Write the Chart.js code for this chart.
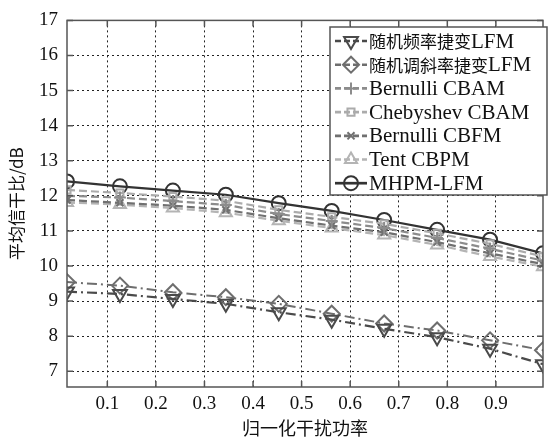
<!DOCTYPE html>
<html>
<head>
<meta charset="utf-8">
<script src="https://cdn.jsdelivr.net/npm/chart.js@4.4.1/dist/chart.umd.min.js"></script>
<style>
  html, body { margin: 0; padding: 0; background: #fff; }
  #wrap { width: 553px; height: 442px; }
</style>
</head>
<body>
<div id="wrap"><canvas id="grafico"></canvas></div>
<script>
const xValues = [0.017, 0.126, 0.235, 0.344, 0.453, 0.562, 0.670, 0.779, 0.888, 0.997];
const xTicks = [0.1, 0.2, 0.3, 0.4, 0.5, 0.6, 0.7, 0.8, 0.9];
const yTicks = [7, 8, 9, 10, 11, 12, 13, 14, 15, 16, 17];

const freqAgile = [9.27, 9.2, 9.06, 8.92, 8.68, 8.47, 8.21, 7.97, 7.64, 7.2];
const slopeAgile = [9.54, 9.44, 9.25, 9.11, 8.92, 8.64, 8.36, 8.16, 7.88, 7.6];
const bernulliCBAM = [12.0, 11.95, 11.85, 11.74, 11.48, 11.28, 11.08, 10.8, 10.49, 10.15];
const chebyshevCBAM = [12.17, 12.08, 11.98, 11.86, 11.6, 11.4, 11.2, 10.93, 10.63, 10.27];
const bernulliCBFM = [11.88, 11.8, 11.72, 11.6, 11.36, 11.15, 10.96, 10.68, 10.36, 10.05];
const tentCBPM = [11.81, 11.75, 11.65, 11.52, 11.29, 11.08, 10.88, 10.6, 10.27, 9.98];
const mhpmLFM = [12.41, 12.27, 12.15, 12.03, 11.79, 11.57, 11.31, 11.03, 10.75, 10.36];

const serif = '"Liberation Serif", "Noto Sans CJK SC", serif';
const cjk = '"Noto Sans CJK SC", "Liberation Serif", sans-serif';

function pontos(valores) {
    return valores.map((v, i) => ({ x: xValues[i], y: v }));
}

function serie(label, valores, cor, dash, estilo, raio, rot, largura) {
    return {
        label: label,
        data: pontos(valores),
        borderColor: cor,
        borderWidth: largura || 2,
        borderDash: dash,
        pointStyle: estilo,
        pointRadius: raio,
        pointRotation: rot || 0,
        pointBorderColor: cor,
        pointBorderWidth: 2,
        pointBackgroundColor: 'rgba(0,0,0,0)',
        fill: false,
        tension: 0
    };
}

const datasets = [
    serie('随机频率捷变LFM', freqAgile, '#4a4a4a', [10, 4, 2, 4], 'triangle', 8, 180, 2.2),
    serie('随机调斜率捷变LFM', slopeAgile, '#6e6e6e', [10, 4, 2, 4], 'rectRot', 8, 0, 2),
    serie('Bernulli CBAM', bernulliCBAM, '#8c8c8c', [8, 4], 'cross', 6, 0, 2.2),
    serie('Chebyshev CBAM', chebyshevCBAM, '#ababab', [8, 4], 'rect', 5, 0, 2.2),
    serie('Bernulli CBFM', bernulliCBFM, '#707070', [8, 4], 'crossRot', 5, 0, 2.2),
    serie('Tent CBPM', tentCBPM, '#b4b4b4', [8, 4], 'triangle', 7, 0, 2.2),
    serie('MHPM-LFM', mhpmLFM, '#333333', [], 'circle', 7, 0, 2.2)
];

// texto misto: chinês em fonte CJK, latim em serif
function textoMisto(ctx, texto, x, y) {
    const partes = texto.match(/[\u4e00-\u9fff]+|[^\u4e00-\u9fff]+/g) || [];
    partes.forEach(p => {
        ctx.font = /[\u4e00-\u9fff]/.test(p) ? '17px ' + cjk : '21px ' + serif;
        ctx.fillText(p, x, y);
        x += ctx.measureText(p).width;
    });
}

const molduraPlugin = {
    id: 'moldura',
    afterDatasetsDraw(chart) {
        const ctx = chart.ctx;
        const a = chart.chartArea;
        const sx = chart.scales.x;
        const sy = chart.scales.y;
        ctx.save();
        ctx.strokeStyle = '#555';
        ctx.lineWidth = 1.5;
        ctx.setLineDash([]);
        // marcas internas dos eixos
        ctx.beginPath();
        xTicks.forEach(t => {
            const px = sx.getPixelForValue(t);
            ctx.moveTo(px, a.bottom); ctx.lineTo(px, a.bottom - 6);
            ctx.moveTo(px, a.top); ctx.lineTo(px, a.top + 6);
        });
        yTicks.forEach(t => {
            const py = sy.getPixelForValue(t);
            ctx.moveTo(a.left, py); ctx.lineTo(a.left + 6, py);
            ctx.moveTo(a.right, py); ctx.lineTo(a.right - 6, py);
        });
        ctx.stroke();
        ctx.strokeRect(a.left, a.top, a.right - a.left, a.bottom - a.top);
        ctx.restore();
    },
    afterDraw(chart) {
        const ctx = chart.ctx;
        const bx = 330, by = 27, bw = 217, bh = 168;
        ctx.save();
        ctx.fillStyle = '#fff';
        ctx.fillRect(bx, by, bw, bh);
        ctx.strokeStyle = '#555';
        ctx.lineWidth = 1.5;
        ctx.setLineDash([]);
        ctx.strokeRect(bx, by, bw, bh);
        chart.data.datasets.forEach((ds, i) => {
            const y = by + 14 + i * 23.7;
            ctx.strokeStyle = ds.borderColor;
            ctx.lineWidth = ds.borderWidth + 0.5;
            ctx.setLineDash(ds.borderDash.length ? [6, 3] : []);
            ctx.beginPath();
            ctx.moveTo(bx + 5, y);
            ctx.lineTo(bx + 37, y);
            ctx.stroke();
            ctx.setLineDash([]);
            ctx.lineWidth = 2;
            ctx.fillStyle = 'rgba(0,0,0,0)';
            Chart.helpers.drawPoint(ctx, {
                pointStyle: ds.pointStyle,
                radius: ds.pointRadius,
                rotation: ds.pointRotation,
                borderWidth: 2
            }, bx + 21, y);
            ctx.fillStyle = '#111';
            ctx.textBaseline = 'middle';
            ctx.textAlign = 'left';
            textoMisto(ctx, ds.label, bx + 39, y + 1);
        });
        ctx.restore();
    }
};

new Chart(document.getElementById('grafico').getContext('2d'), {
    type: 'line',
    data: { datasets: datasets },
    options: {
        responsive: true,
        maintainAspectRatio: false,
        animation: false,
        layout: { padding: { left: 0, right: 2, top: 19, bottom: 0 } },
        plugins: {
            legend: { display: false },
            tooltip: { enabled: false }
        },
        scales: {
            x: {
                type: 'linear',
                min: 0.017,
                max: 0.997,
                afterBuildTicks: s => { s.ticks = xTicks.map(v => ({ value: v })); },
                afterFit: s => { s.height = 55; },
                grid: { color: '#222', lineWidth: 1, drawTicks: false },
                border: { display: false, dash: [2, 3] },
                ticks: {
                    color: '#111',
                    padding: 6,
                    maxRotation: 0,
                    font: { family: serif, size: 19 },
                    callback: v => v.toFixed(1)
                },
                title: {
                    display: true,
                    text: '归一化干扰功率',
                    color: '#111',
                    font: { family: cjk, size: 18 },
                    padding: { top: 4, bottom: 3 }
                }
            },
            y: {
                type: 'linear',
                min: 6.55,
                max: 17,
                afterBuildTicks: s => { s.ticks = yTicks.map(v => ({ value: v })); },
                afterFit: s => { s.width = 67; },
                grid: { color: '#222', lineWidth: 1, drawTicks: false },
                border: { display: false, dash: [2, 3] },
                ticks: {
                    color: '#111',
                    padding: 9,
                    font: { family: serif, size: 19 },
                    callback: v => String(v)
                },
                title: {
                    display: true,
                    text: '平均信干比/dB',
                    color: '#111',
                    font: { family: cjk, size: 17 },
                    padding: { top: 6, bottom: 0 }
                }
            }
        }
    },
    plugins: [molduraPlugin]
});
</script>
</body>
</html>
